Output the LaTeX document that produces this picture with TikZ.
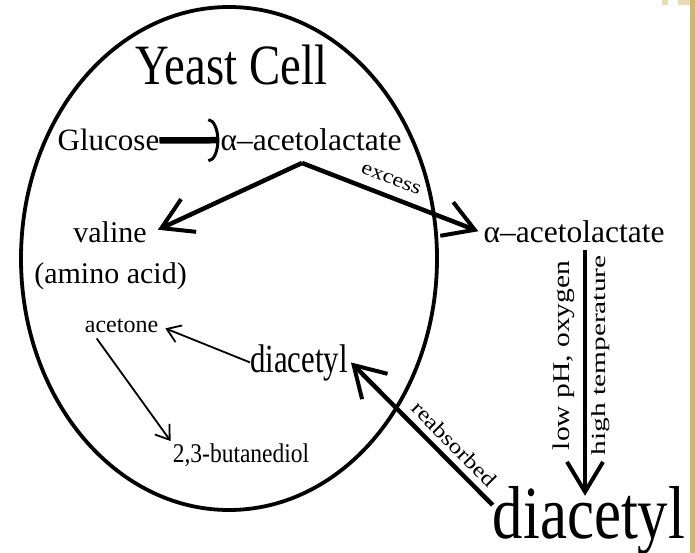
\documentclass[tikz,border=0pt]{standalone}
\usepackage{fontspec}
\setmainfont{Liberation Serif}
\usepackage{graphicx}
\usetikzlibrary{arrows.meta,calc}

\newcommand{\fsz}[1]{\fontsize{#1}{#1}\selectfont}
\newcommand{\sqz}[2]{\scalebox{#1}[1]{#2}}
\definecolor{slidetan}{RGB}{205,185,110}
\definecolor{slidetanlt}{RGB}{232,220,178}

\begin{document}
\begin{tikzpicture}[
    x=1pt, y=-1pt,
    txt/.style={inner sep=0pt, anchor=base},
    cell/.style={line width=3.8pt},
    bigflow/.style={line width=4.5pt,
        -{Straight Barb[length=30pt,width=36pt,line width=4pt]}},
    thinflow/.style={line width=1.8pt,
        -{Straight Barb[length=13pt,width=18pt,line width=1.8pt]}},
    glu/.style={line width=6.5pt,
        -{Arc Barb[length=11pt,width=44pt,line width=3pt]}}
]
    \useasboundingbox (0,0) rectangle (695,553);

    % slide border
    \fill[slidetan] (690,0) rectangle (695,553);
    \fill[slidetanlt] (662,0) rectangle (668,5);
    \fill[slidetanlt] (678,0) rectangle (690,5);

    % the cell
    \draw[cell] (229,258.5) ellipse [x radius=208, y radius=251.5];

    \node[txt, font=\fsz{57}] (Y) at (231.5,85) {\sqz{0.82}{Yeast Cell}};
    \node[txt, font=\fsz{31}] (G) at (108.5,151) {Glucose};
    \node[txt, font=\fsz{31.5}] (A) at (311,151) {α–acetolactate};
    \node[txt, font=\fsz{30}] (V) at (110,242) {valine};
    \node[txt, font=\fsz{30}] (AA) at (110.5,283) {(amino acid)};
    \node[txt, font=\fsz{24}] (AC) at (121.5,332) {acetone};
    \node[txt, font=\fsz{40}] (D) at (299,372) {\sqz{0.77}{diacetyl}};
    \node[txt, font=\fsz{27}] (B) at (241,462) {\sqz{0.87}{2,3-butanediol}};
    \node[txt, font=\fsz{31.5}] (A2) at (574,242) {α–acetolactate};
    \node[txt, font=\fsz{75}] (DD) at (589,538) {\sqz{0.81}{diacetyl}};

    \coordinate (F) at (302,163);

    % inside the cell
    \draw[glu] (G.east) -- ($(A.west)+(-1,0)$);
    \draw[bigflow] (F) -- ($(V.east)+(11,-2)$);
    \draw[thinflow] (D.west) -- ($(AC.east)+(7,3)$);
    \draw[thinflow] ($(AC.south west)+(12,6)$) -- ($(B.north west)+(-2,-2)$);

    % out of the cell and back
    \draw[bigflow] (F) -- ($(A2.west)+(-5,0)$)
        node[sloped, above=10pt, pos=0.47, inner sep=0pt, font=\fsz{20}]
        {\sqz{1.2}{excess}};
    \draw[bigflow] ($(A2.south)+(11,7)$) -- ($(DD.north)+(-4,10)$)
        node[pos=0.43, rotate=90, anchor=south, inner xsep=0pt,
             inner ysep=8pt, font=\fsz{24}] {\sqz{1.23}{low pH, oxygen}}
        node[pos=0.43, rotate=90, anchor=north, inner xsep=0pt,
             inner ysep=4pt, font=\fsz{20}] {\sqz{1.47}{high temperature}};
    \draw[bigflow] ($(DD.west)+(0,-15)$) -- ($(D.east)+(3,0)$)
        node[sloped, above=6pt, pos=0.35, inner sep=0pt, font=\fsz{21}]
        {\sqz{1.2}{reabsorbed}};
\end{tikzpicture}
\end{document}
